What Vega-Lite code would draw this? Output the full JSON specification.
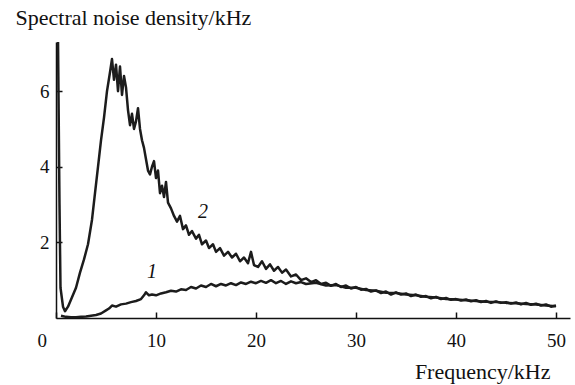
{
  "$schema": "https://vega.github.io/schema/vega-lite/v6.json",
  "width": 514,
  "height": 276,
  "autosize": "none",
  "padding": {"left": 56, "top": 42, "right": 5, "bottom": 67},
  "background": "white",
  "config": {
    "font": "Liberation Serif",
    "view": {"stroke": null},
    "axis": {"grid": false, "domainColor": "#111", "tickColor": "#111", "domainWidth": 1.5, "tickWidth": 1.5, "labelColor": "#111", "titleColor": "#111", "labelFont": "Liberation Serif", "titleFont": "Liberation Serif", "labelFontSize": 19, "titleFontSize": 22, "titleFontWeight": "normal"}
  },
  "datasets": {
    "curves": [
      {"f": 0.2, "v": 7.4, "c": "2"}, {"f": 0.35, "v": 3.0, "c": "2"}, {"f": 0.45, "v": 0.8, "c": "2"}, {"f": 0.7, "v": 0.3, "c": "2"}, {"f": 0.9, "v": 0.18, "c": "2"},
      {"f": 1.2, "v": 0.3, "c": "2"}, {"f": 1.6, "v": 0.55, "c": "2"}, {"f": 2.0, "v": 0.8, "c": "2"}, {"f": 2.4, "v": 1.2, "c": "2"}, {"f": 2.8, "v": 1.55, "c": "2"},
      {"f": 3.2, "v": 1.95, "c": "2"}, {"f": 3.6, "v": 2.6, "c": "2"}, {"f": 3.9, "v": 3.3, "c": "2"}, {"f": 4.2, "v": 4.0, "c": "2"}, {"f": 4.5, "v": 4.7, "c": "2"},
      {"f": 4.8, "v": 5.3, "c": "2"}, {"f": 5.1, "v": 6.0, "c": "2"}, {"f": 5.4, "v": 6.5, "c": "2"}, {"f": 5.6, "v": 6.85, "c": "2"}, {"f": 5.8, "v": 6.3, "c": "2"},
      {"f": 6.0, "v": 6.7, "c": "2"}, {"f": 6.2, "v": 6.0, "c": "2"}, {"f": 6.4, "v": 6.65, "c": "2"}, {"f": 6.6, "v": 5.9, "c": "2"}, {"f": 6.8, "v": 6.4, "c": "2"},
      {"f": 7.0, "v": 6.1, "c": "2"}, {"f": 7.2, "v": 5.5, "c": "2"}, {"f": 7.4, "v": 5.1, "c": "2"}, {"f": 7.6, "v": 5.4, "c": "2"}, {"f": 7.8, "v": 5.0, "c": "2"},
      {"f": 8.0, "v": 5.2, "c": "2"}, {"f": 8.2, "v": 5.55, "c": "2"}, {"f": 8.4, "v": 5.0, "c": "2"}, {"f": 8.6, "v": 4.7, "c": "2"}, {"f": 8.8, "v": 4.5, "c": "2"},
      {"f": 9.0, "v": 4.2, "c": "2"}, {"f": 9.2, "v": 3.9, "c": "2"}, {"f": 9.4, "v": 3.8, "c": "2"}, {"f": 9.6, "v": 4.0, "c": "2"}, {"f": 9.8, "v": 4.15, "c": "2"},
      {"f": 10.0, "v": 3.7, "c": "2"}, {"f": 10.2, "v": 3.9, "c": "2"}, {"f": 10.4, "v": 3.3, "c": "2"}, {"f": 10.6, "v": 3.5, "c": "2"}, {"f": 10.8, "v": 3.2, "c": "2"},
      {"f": 11.0, "v": 3.6, "c": "2"}, {"f": 11.2, "v": 3.05, "c": "2"}, {"f": 11.5, "v": 2.9, "c": "2"}, {"f": 11.8, "v": 2.7, "c": "2"}, {"f": 12.1, "v": 2.55, "c": "2"},
      {"f": 12.4, "v": 2.7, "c": "2"}, {"f": 12.7, "v": 2.35, "c": "2"}, {"f": 13.0, "v": 2.45, "c": "2"}, {"f": 13.3, "v": 2.2, "c": "2"}, {"f": 13.6, "v": 2.3, "c": "2"},
      {"f": 14.0, "v": 2.1, "c": "2"}, {"f": 14.3, "v": 2.2, "c": "2"}, {"f": 14.6, "v": 1.95, "c": "2"}, {"f": 15.0, "v": 2.05, "c": "2"}, {"f": 15.3, "v": 1.85, "c": "2"},
      {"f": 15.7, "v": 1.95, "c": "2"}, {"f": 16.0, "v": 1.75, "c": "2"}, {"f": 16.4, "v": 1.85, "c": "2"}, {"f": 16.8, "v": 1.65, "c": "2"}, {"f": 17.2, "v": 1.75, "c": "2"},
      {"f": 17.6, "v": 1.6, "c": "2"}, {"f": 18.0, "v": 1.7, "c": "2"}, {"f": 18.4, "v": 1.5, "c": "2"}, {"f": 18.8, "v": 1.6, "c": "2"}, {"f": 19.2, "v": 1.45, "c": "2"},
      {"f": 19.5, "v": 1.75, "c": "2"}, {"f": 19.8, "v": 1.4, "c": "2"}, {"f": 20.2, "v": 1.35, "c": "2"}, {"f": 20.6, "v": 1.5, "c": "2"}, {"f": 21.0, "v": 1.3, "c": "2"},
      {"f": 21.4, "v": 1.42, "c": "2"}, {"f": 21.8, "v": 1.25, "c": "2"}, {"f": 22.2, "v": 1.35, "c": "2"}, {"f": 22.6, "v": 1.2, "c": "2"}, {"f": 23.0, "v": 1.28, "c": "2"},
      {"f": 23.5, "v": 1.1, "c": "2"}, {"f": 24.0, "v": 1.15, "c": "2"}, {"f": 24.5, "v": 1.0, "c": "2"}, {"f": 25.0, "v": 1.05, "c": "2"}, {"f": 25.5, "v": 0.95, "c": "2"},
      {"f": 26.0, "v": 1.0, "c": "2"}, {"f": 26.5, "v": 0.9, "c": "2"}, {"f": 27.0, "v": 0.93, "c": "2"}, {"f": 27.5, "v": 0.85, "c": "2"}, {"f": 28.0, "v": 0.9, "c": "2"},
      {"f": 28.5, "v": 0.82, "c": "2"}, {"f": 29.0, "v": 0.86, "c": "2"}, {"f": 29.5, "v": 0.78, "c": "2"}, {"f": 30.0, "v": 0.82, "c": "2"}, {"f": 30.5, "v": 0.75, "c": "2"},
      {"f": 31.0, "v": 0.77, "c": "2"}, {"f": 31.5, "v": 0.7, "c": "2"}, {"f": 32.0, "v": 0.73, "c": "2"}, {"f": 32.5, "v": 0.66, "c": "2"}, {"f": 33.0, "v": 0.7, "c": "2"},
      {"f": 33.5, "v": 0.62, "c": "2"}, {"f": 34.0, "v": 0.68, "c": "2"}, {"f": 34.5, "v": 0.62, "c": "2"}, {"f": 35.0, "v": 0.65, "c": "2"}, {"f": 35.5, "v": 0.58, "c": "2"},
      {"f": 36.0, "v": 0.62, "c": "2"}, {"f": 36.5, "v": 0.56, "c": "2"}, {"f": 37.0, "v": 0.58, "c": "2"}, {"f": 37.5, "v": 0.52, "c": "2"}, {"f": 38.0, "v": 0.56, "c": "2"},
      {"f": 38.5, "v": 0.5, "c": "2"}, {"f": 39.0, "v": 0.53, "c": "2"}, {"f": 39.5, "v": 0.48, "c": "2"}, {"f": 40.0, "v": 0.5, "c": "2"}, {"f": 40.5, "v": 0.46, "c": "2"},
      {"f": 41.0, "v": 0.49, "c": "2"}, {"f": 41.5, "v": 0.44, "c": "2"}, {"f": 42.0, "v": 0.47, "c": "2"}, {"f": 42.5, "v": 0.42, "c": "2"}, {"f": 43.0, "v": 0.45, "c": "2"},
      {"f": 43.5, "v": 0.4, "c": "2"}, {"f": 44.0, "v": 0.44, "c": "2"}, {"f": 44.5, "v": 0.4, "c": "2"}, {"f": 45.0, "v": 0.42, "c": "2"}, {"f": 45.5, "v": 0.38, "c": "2"},
      {"f": 46.0, "v": 0.41, "c": "2"}, {"f": 46.5, "v": 0.36, "c": "2"}, {"f": 47.0, "v": 0.4, "c": "2"}, {"f": 47.5, "v": 0.35, "c": "2"}, {"f": 48.0, "v": 0.38, "c": "2"},
      {"f": 48.5, "v": 0.33, "c": "2"}, {"f": 49.0, "v": 0.36, "c": "2"}, {"f": 49.5, "v": 0.3, "c": "2"}, {"f": 50.0, "v": 0.33, "c": "2"},
      {"f": 0.5, "v": 0.06, "c": "1"}, {"f": 1.0, "v": 0.03, "c": "1"}, {"f": 1.5, "v": 0.02, "c": "1"}, {"f": 2.0, "v": 0.02, "c": "1"}, {"f": 2.5, "v": 0.03, "c": "1"},
      {"f": 3.0, "v": 0.04, "c": "1"}, {"f": 3.5, "v": 0.06, "c": "1"}, {"f": 4.0, "v": 0.08, "c": "1"}, {"f": 4.5, "v": 0.12, "c": "1"}, {"f": 5.0, "v": 0.2, "c": "1"},
      {"f": 5.3, "v": 0.25, "c": "1"}, {"f": 5.6, "v": 0.33, "c": "1"}, {"f": 6.0, "v": 0.3, "c": "1"}, {"f": 6.5, "v": 0.36, "c": "1"}, {"f": 7.0, "v": 0.38, "c": "1"},
      {"f": 7.5, "v": 0.42, "c": "1"}, {"f": 8.0, "v": 0.45, "c": "1"}, {"f": 8.5, "v": 0.5, "c": "1"}, {"f": 8.8, "v": 0.6, "c": "1"}, {"f": 9.0, "v": 0.68, "c": "1"},
      {"f": 9.3, "v": 0.6, "c": "1"}, {"f": 9.6, "v": 0.62, "c": "1"}, {"f": 10.0, "v": 0.6, "c": "1"}, {"f": 10.5, "v": 0.65, "c": "1"}, {"f": 11.0, "v": 0.68, "c": "1"},
      {"f": 11.5, "v": 0.72, "c": "1"}, {"f": 12.0, "v": 0.7, "c": "1"}, {"f": 12.5, "v": 0.76, "c": "1"}, {"f": 13.0, "v": 0.74, "c": "1"}, {"f": 13.5, "v": 0.82, "c": "1"},
      {"f": 14.0, "v": 0.78, "c": "1"}, {"f": 14.5, "v": 0.86, "c": "1"}, {"f": 15.0, "v": 0.82, "c": "1"}, {"f": 15.5, "v": 0.9, "c": "1"}, {"f": 16.0, "v": 0.84, "c": "1"},
      {"f": 16.5, "v": 0.9, "c": "1"}, {"f": 17.0, "v": 0.86, "c": "1"}, {"f": 17.5, "v": 0.92, "c": "1"}, {"f": 18.0, "v": 0.87, "c": "1"}, {"f": 18.5, "v": 0.94, "c": "1"},
      {"f": 19.0, "v": 0.9, "c": "1"}, {"f": 19.5, "v": 0.96, "c": "1"}, {"f": 20.0, "v": 0.92, "c": "1"}, {"f": 20.5, "v": 0.98, "c": "1"}, {"f": 21.0, "v": 0.93, "c": "1"},
      {"f": 21.5, "v": 1.0, "c": "1"}, {"f": 22.0, "v": 0.92, "c": "1"}, {"f": 22.5, "v": 0.98, "c": "1"}, {"f": 23.0, "v": 0.9, "c": "1"}, {"f": 23.5, "v": 0.97, "c": "1"},
      {"f": 24.0, "v": 0.92, "c": "1"}, {"f": 24.5, "v": 0.95, "c": "1"}, {"f": 25.0, "v": 0.9, "c": "1"}, {"f": 26.0, "v": 0.93, "c": "1"}, {"f": 27.0, "v": 0.86, "c": "1"},
      {"f": 28.0, "v": 0.87, "c": "1"}, {"f": 29.0, "v": 0.8, "c": "1"}, {"f": 30.0, "v": 0.8, "c": "1"}, {"f": 31.0, "v": 0.74, "c": "1"}, {"f": 32.0, "v": 0.72, "c": "1"},
      {"f": 33.0, "v": 0.67, "c": "1"}, {"f": 34.0, "v": 0.66, "c": "1"}, {"f": 35.0, "v": 0.62, "c": "1"}, {"f": 36.0, "v": 0.6, "c": "1"}, {"f": 37.0, "v": 0.56, "c": "1"},
      {"f": 38.0, "v": 0.54, "c": "1"}, {"f": 39.0, "v": 0.5, "c": "1"}, {"f": 40.0, "v": 0.49, "c": "1"}, {"f": 41.0, "v": 0.47, "c": "1"}, {"f": 42.0, "v": 0.45, "c": "1"},
      {"f": 43.0, "v": 0.43, "c": "1"}, {"f": 44.0, "v": 0.42, "c": "1"}, {"f": 45.0, "v": 0.4, "c": "1"}, {"f": 46.0, "v": 0.39, "c": "1"}, {"f": 47.0, "v": 0.37, "c": "1"},
      {"f": 48.0, "v": 0.36, "c": "1"}, {"f": 49.0, "v": 0.33, "c": "1"}, {"f": 50.0, "v": 0.31, "c": "1"}
    ],
    "labels": [
      {"f": 9.6, "v": 1.22, "label": "1"},
      {"f": 14.7, "v": 2.8, "label": "2"}
    ]
  },
  "encoding": {
    "x": {
      "field": "f", "type": "quantitative",
      "scale": {"domain": [0, 51.4], "nice": false, "zero": false},
      "axis": {
        "values": [0, 10, 20, 30, 40, 50],
        "tickSize": -6,
        "labelPadding": 19,
        "labelOffset": {"condition": {"test": "datum.value == 0", "value": -19}, "value": 0},
        "title": "Frequency/kHz",
        "titleAnchor": "end",
        "titleAlign": "right",
        "titleBaseline": "alphabetic",
        "titleX": 494,
        "titleY": 60
      }
    },
    "y": {
      "field": "v", "type": "quantitative",
      "scale": {"domain": [0, 7.3], "nice": false},
      "axis": {
        "values": [2, 4, 6],
        "tickSize": -6,
        "labelPadding": 13,
        "title": "Spectral noise density/kHz",
        "titleAngle": 0,
        "titleAlign": "left",
        "titleBaseline": "alphabetic",
        "titleX": -41,
        "titleY": -18
      }
    }
  },
  "layer": [
    {
      "data": {"name": "curves"},
      "mark": {"type": "line", "color": "#1c1c1c", "strokeWidth": 2.5, "clip": true, "strokeJoin": "round"},
      "encoding": {"detail": {"field": "c", "type": "nominal"}}
    },
    {
      "data": {"name": "labels"},
      "mark": {"type": "text", "font": "Liberation Serif", "fontSize": 20, "fontStyle": "italic", "color": "#111"},
      "encoding": {"text": {"field": "label", "type": "nominal"}}
    }
  ]
}
